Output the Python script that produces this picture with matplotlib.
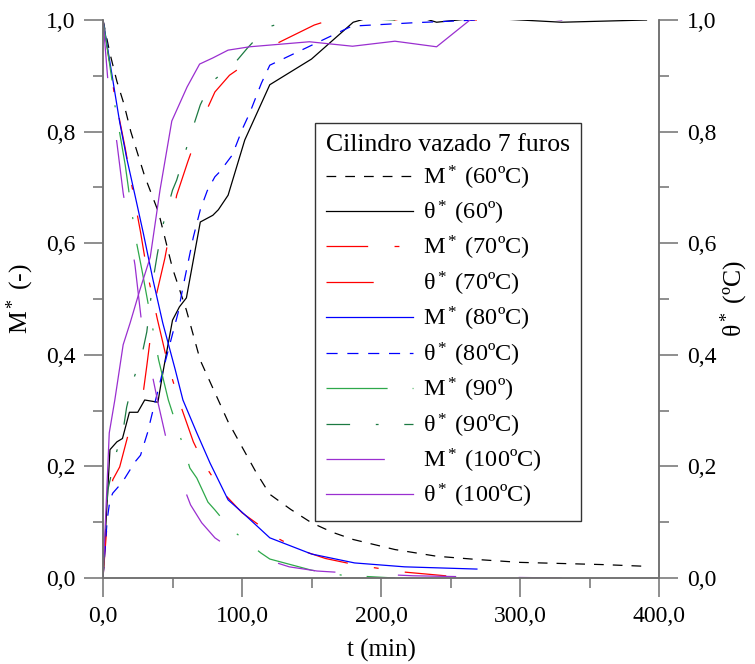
import numpy as np
import matplotlib
matplotlib.use('Agg')
import matplotlib.pyplot as plt
from matplotlib.ticker import MultipleLocator, FuncFormatter

# Fonte parecida com Times
plt.rcParams['font.family'] = ['Liberation Serif', 'DejaVu Serif']
plt.rcParams['mathtext.fontset'] = 'custom'
plt.rcParams['mathtext.rm'] = 'Liberation Serif'
plt.rcParams['mathtext.it'] = 'Liberation Serif:italic'
plt.rcParams['lines.scale_dashes'] = False

# Dados (t em min)
t_M60 = [0, 5, 10, 15, 20, 25, 30, 40, 50, 60, 70, 80, 90, 100, 110, 120, 135, 150, 165, 180, 210, 240, 270, 300, 330, 360, 390]
M60 = [1.0, 0.94, 0.89, 0.85, 0.80, 0.76, 0.72, 0.655, 0.555, 0.48, 0.39, 0.335, 0.28, 0.235, 0.19, 0.15, 0.123, 0.099, 0.082, 0.069, 0.051, 0.039, 0.033, 0.028, 0.026, 0.024, 0.021]

t_T60 = [0, 5, 10, 14, 19, 25, 30, 39.5, 43, 50, 55, 60, 70, 79, 83, 90, 102, 120, 150, 180, 211, 240, 271, 330, 391]
T60 = [0.0, 0.23, 0.244, 0.25, 0.297, 0.297, 0.319, 0.315, 0.367, 0.462, 0.486, 0.502, 0.638, 0.65, 0.66, 0.686, 0.785, 0.884, 0.93, 0.996, 1.018, 0.996, 1.004, 0.996, 1.0]

t_M70 = [0, 8, 16, 21, 27, 32, 39, 47, 55, 65, 73, 86, 100, 125, 142, 160, 183, 215, 233, 255]
M70 = [1.0, 0.87, 0.77, 0.70, 0.62, 0.545, 0.465, 0.38, 0.315, 0.244, 0.203, 0.154, 0.117, 0.072, 0.05, 0.035, 0.023, 0.011, 0.007, 0.002]

t_T70 = [0, 3, 7, 12, 18, 28, 31.5, 37.5, 44.5, 53, 61, 73, 80.5, 91, 121, 152, 186, 210, 218, 269]
T70 = [0.0, 0.099, 0.176, 0.199, 0.256, 0.315, 0.38, 0.498, 0.573, 0.686, 0.746, 0.83, 0.871, 0.901, 0.953, 0.991, 1.018, 1.0, 1.004, 1.0]

t_M80 = [0, 6.5, 12, 17, 23, 29, 36, 43, 52, 57.5, 67.5, 77, 90, 100, 120, 150, 181, 217, 269]
M80 = [1.0, 0.901, 0.817, 0.753, 0.686, 0.618, 0.534, 0.457, 0.373, 0.319, 0.26, 0.206, 0.14, 0.118, 0.072, 0.043, 0.027, 0.020, 0.016]

t_T80 = [0, 3, 5, 7, 14, 23, 27, 32, 36, 44.5, 54, 57.5, 65, 70, 75, 80.5, 84, 93, 100.5, 105.5, 114, 120, 179, 223, 269]
T80 = [0.0, 0.104, 0.14, 0.152, 0.172, 0.208, 0.22, 0.26, 0.301, 0.385, 0.475, 0.521, 0.611, 0.66, 0.694, 0.719, 0.728, 0.758, 0.806, 0.833, 0.887, 0.919, 0.989, 0.995, 1.0]

t_M90 = [0, 3, 6.5, 8.5, 16, 19.5, 23.5, 28, 32, 40, 47, 57, 62.5, 67.5, 75.5, 80.5, 92.5, 98.5, 113.5, 120, 150, 172, 210]
M90 = [1.0, 0.95, 0.892, 0.848, 0.74, 0.677, 0.609, 0.552, 0.498, 0.391, 0.319, 0.242, 0.197, 0.179, 0.136, 0.122, 0.086, 0.075, 0.045, 0.034, 0.014, 0.005, 0.0]

t_T90 = [0, 3.5, 9, 14.5, 17, 21.5, 28, 31.5, 36, 39, 42.5, 50, 53, 59, 64.5, 70, 78, 93.5, 104, 118, 136.5, 152, 172, 193, 210]
T90 = [0.0, 0.158, 0.22, 0.265, 0.306, 0.353, 0.40, 0.441, 0.534, 0.579, 0.627, 0.695, 0.713, 0.762, 0.806, 0.848, 0.889, 0.919, 0.95, 0.987, 1.0, 1.005, 1.005, 1.002, 1.0]

t_M100 = [0, 3.5, 10, 14.5, 23, 28, 39.5, 46.5, 63, 71, 80.5, 91, 134, 154, 177, 223, 266, 330]
M100 = [1.0, 0.892, 0.78, 0.69, 0.561, 0.453, 0.315, 0.238, 0.131, 0.099, 0.072, 0.054, 0.02, 0.0125, 0.009, 0.004, 0.002, 0.0]

t_T100 = [0, 4.5, 8.5, 14.5, 19.5, 26.5, 34, 41, 49.5, 60.5, 69.5, 79, 90, 105.5, 148.5, 179.5, 210, 240, 271, 330]
T100 = [0.0, 0.26, 0.319, 0.418, 0.457, 0.516, 0.575, 0.695, 0.819, 0.88, 0.921, 0.932, 0.946, 0.952, 0.961, 0.953, 0.962, 0.952, 1.014, 1.0]

# Figura
fig = plt.figure(figsize=(7.55, 6.64), dpi=100)
ax = fig.add_axes([103/755, 86/664, 556/755, 558/664])
ax2 = ax.twinx()

lw = 0.9
ax.plot(t_M60, M60, color='black', lw=lw, dashes=(7, 6.5), label=r'$\mathrm{M}^*$ (60ºC)')
ax.plot(t_T60, T60, color='black', lw=lw, label=r'$\mathrm{θ}^*$ (60º)')
ax.plot(t_M70, M70, color='red', lw=lw, dashes=(30, 19, 3.5, 19), label=r'$\mathrm{M}^*$ (70ºC)')
ax.plot(t_T70, T70, color='red', lw=lw, dashes=(34, 36), label=r'$\mathrm{θ}^*$ (70ºC)')
ax.plot(t_M80, M80, color='blue', lw=lw, label=r'$\mathrm{M}^*$ (80ºC)')
ax.plot(t_T80, T80, color='blue', lw=lw, dashes=(8, 7), label=r'$\mathrm{θ}^*$ (80ºC)')
ax.plot(t_M90, M90, color='#2ea84a', lw=lw, dashes=(44, 18, 1.5, 18), label=r'$\mathrm{M}^*$ (90º)')
ax.plot(t_T90, T90, color='#1c7a42', lw=lw, dashes=(17, 18.5, 2, 18.5), label=r'$\mathrm{θ}^*$ (90ºC)')
ax.plot(t_M100, M100, color='#9a2fd0', lw=lw, dashes=(42, 45), label=r'$\mathrm{M}^*$ (100ºC)')
ax.plot(t_T100, T100, color='#9a2fd0', lw=lw, label=r'$\mathrm{θ}^*$ (100ºC)')

# Eixos
virgula = FuncFormatter(lambda v, p: f'{v:.1f}'.replace('.', ','))
for a in (ax, ax2):
    a.set_ylim(0, 1.0)
    a.yaxis.set_major_locator(MultipleLocator(0.2))
    a.yaxis.set_minor_locator(MultipleLocator(0.1))
    a.yaxis.set_major_formatter(virgula)
    a.spines['top'].set_visible(False)
    for s in a.spines.values():
        s.set_color('#707070')
        s.set_linewidth(1.1)
    a.tick_params(which='major', length=14, width=1.1, color='#707070', labelsize=17, pad=6)
    a.tick_params(which='minor', length=7, width=1.1, color='#707070')

ax.set_xlim(0, 400)
ax.xaxis.set_major_locator(MultipleLocator(100))
ax.xaxis.set_minor_locator(MultipleLocator(50))
ax.xaxis.set_major_formatter(virgula)

ax.set_xlabel('t (min)', fontsize=18, labelpad=9)
ax.set_ylabel(r'$\mathrm{M}^*$ (-)', fontsize=18.5, labelpad=7)
ax2.set_ylabel(r'$\mathrm{θ}^*$ (ºC)', fontsize=18.5, labelpad=2)

leg = ax.legend(loc='upper left', bbox_to_anchor=(0.381, 0.815), borderaxespad=0,
                title='Cilindro vazado 7 furos', title_fontsize=18.5, fontsize=17.5,
                handlelength=3.6, handletextpad=0.4, labelspacing=0.3,
                borderpad=0.45, fancybox=False, frameon=True, alignment='left')
leg.get_frame().set_edgecolor('black')
leg.get_frame().set_linewidth(1.0)

fig.savefig('out.png', dpi=100)
